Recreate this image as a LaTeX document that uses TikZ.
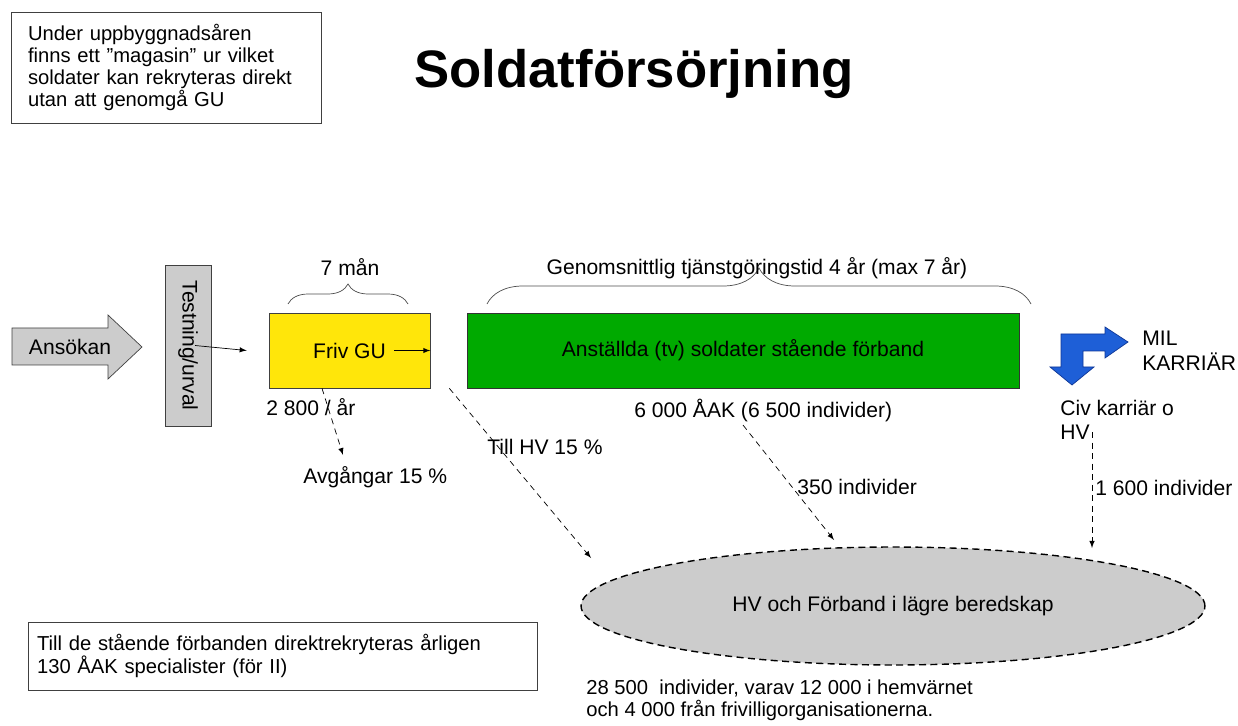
\documentclass[tikz,border=0pt]{standalone}
\usepackage{fontspec}
\setmainfont{Liberation Sans}
\usetikzlibrary{
	positioning,
	arrows,
	shapes.geometric,
	decorations.pathreplacing
}
\definecolor{boxgrey}{RGB}{204,204,204}
\definecolor{guyellow}{RGB}{255,230,10}
\definecolor{anstgreen}{RGB}{0,170,0}
\definecolor{karblue}{RGB}{30,95,215}
\definecolor{karedge}{RGB}{15,55,150}

\begin{document}
\begin{tikzpicture}[
		x=0.02cm,
		y=-0.02cm,
		font=\fontsize{12}{14}\selectfont,
		>=latex,
		lbl/.style={inner sep=0pt, anchor=base west},
		note/.style={draw=black!75, align=left, font=\fontsize{11.5}{12.6}\selectfont},
		flow/.style={->, dash pattern=on 3.4pt off 2.6pt, thin},
		brc/.style={decorate, decoration={brace, amplitude=#1}, draw=black!70, thin}
		]
		
		\useasboundingbox (0,0) rectangle (1238,726);
		
		\node[note, minimum width=6.2cm, minimum height=2.22cm, text width=5.52cm] (magasin) at (166,67.5) {
			Under uppbyggnadsåren\\
			finns ett ”magasin” ur vilket\\
			soldater kan rekryteras direkt\\
			utan att genomgå GU
		};
		\node[font=\fontsize{30}{36}\selectfont\bfseries, anchor=base] (title) at (634,88) {Soldatförsörjning};
		
		% flow of applicants
		\draw[draw=black!75, fill=boxgrey] (12,328) -- (108,328) -- (108,315) -- (142,347)
			-- (108,379) -- (108,365) -- (12,365) -- cycle;
		\node (ans) at (70,347) {Ansökan};
		\node[draw=black!75, fill=boxgrey, rotate=-90, minimum width=3.22cm, minimum height=0.92cm] (test) at (188,345.5) {Testning/urval};
		
		\node[draw=black!75, fill=guyellow, minimum width=3.22cm, minimum height=1.5cm] (friv) at (349.5,350.5) {Friv GU};
		\node[draw=black!80, fill=anstgreen, minimum width=11.04cm, minimum height=1.5cm] (anst) at (743,350.5) {Anställda (tv) soldater stående förband};
		\draw[->] ([xshift=0.14cm]test.center) -- ([xshift=-0.44cm]friv.west);
		\draw[->] ([xshift=0.9cm]friv.center) -- (friv.east);
		
		\draw[brc=0.4cm] (288,304) -- (408,304);
		\node[anchor=base] (man) at (350,276) {7 mån};
		\draw[brc=0.72cm] (487,304) -- (1031,304);
		\node[anchor=base] (tid) at (757,275) {Genomsnittlig tjänstgöringstid 4 år (max 7 år)};
		
		% career arrow
		\draw[draw=karedge, fill=karblue] (1061,334) -- (1105,334) -- (1105,327) -- (1128,342)
			-- (1105,358) -- (1105,351) -- (1083,351) -- (1083,367) -- (1094,367)
			-- (1072,385) -- (1050,367) -- (1061,367) -- cycle;
		\node[anchor=west, align=left, inner sep=0pt] (mil) at (1142,351) {MIL\\KARRIÄR};
		\node[anchor=west, align=left, inner sep=0pt] (civ) at (1060,420) {Civ karriär o\\HV};
		
		\node[lbl] (gu) at (266,416) {2 800 / år};
		\node[lbl] (avg) at (303,483) {Avgångar 15 \%};
		\node[lbl] (tillhv) at (487,454) {Till HV 15 \%};
		\node[lbl] (aak) at (634,418) {6 000 ÅAK (6 500 individer)};
		\node[lbl] (ind350) at (797,494) {350 individer};
		\node[lbl] (ind1600) at (1095,495) {1 600 individer};
		
		\node[draw, dash pattern=on 4pt off 2.5pt, line width=0.8pt, ellipse, fill=boxgrey, minimum width=12.48cm, minimum height=2.36cm] (hv) at (893,606) {HV och Förband i lägre beredskap};
		\node[anchor=west, align=left, inner sep=0pt, font=\fontsize{11.5}{12.6}\selectfont] (hvtxt) at (586,700) {
			28 500 \ individer, varav 12 000 i hemvärnet\\
			och 4 000 från frivilligorganisationerna.
		};
		
		\coordinate (avgEnd) at (343,455);
		\coordinate (hvEnd) at (591,558);
		\coordinate (aakEnd) at (834,540);
		\coordinate (civEnd) at (1092,548);
		\draw[flow] ([xshift=-0.55cm]friv.south) -- (avgEnd);
		\draw[flow] ([xshift=0.38cm]friv.south east) -- (hvEnd);
		\draw[flow] (743,425) -- (aakEnd);
		\draw[flow] (1092,432) -- (civEnd);
		
		\node[note, minimum width=10.18cm, minimum height=1.36cm, text width=9.82cm] (spec) at (282.5,656) {
			Till de stående förbanden direktrekryteras årligen\\
			130 ÅAK specialister (för II)
		};
		
	\end{tikzpicture}
\end{document}
